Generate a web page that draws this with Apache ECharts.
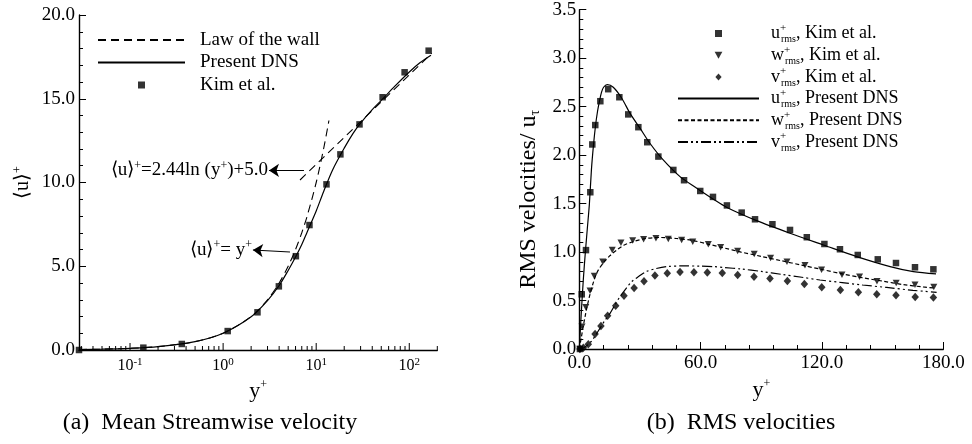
<!DOCTYPE html>
<html>
<head>
<meta charset="utf-8">
<script src="https://cdn.jsdelivr.net/npm/echarts@6.0.0/dist/echarts.min.js"></script>
<style>
html,body{margin:0;padding:0;background:#fff;}
#chart{width:972px;height:444px;}
</style>
</head>
<body>
<div id="chart"></div>
<script>
// ---------------- (a) Mean streamwise velocity ----------------
var kimA_y = [0.0283, 0.139, 0.36, 1.12, 2.34, 3.97, 6.05, 8.47, 12.9, 18.2, 29.2, 51.7, 89.1, 161.5];
var kimA_u = [0.0, 0.14, 0.36, 1.13, 2.25, 3.8, 5.6, 7.46, 9.89, 11.68, 13.47, 15.09, 16.58, 17.87];

var dnsA_y = [0.0283, 0.05, 0.1, 0.2, 0.5, 1, 2, 3, 4, 5, 6, 7, 8, 10, 12, 15, 20, 25, 30, 40, 50, 70, 100, 130, 171];
var dnsA_u = [0.03, 0.05, 0.1, 0.2, 0.5, 1.0, 1.98, 2.95, 3.85, 4.75, 5.55, 6.3, 7.05, 8.3, 9.45, 10.75, 12.05, 12.95, 13.55, 14.35, 14.9, 15.75, 16.6, 17.15, 17.6];

var viscous_y = [0.0283, 0.05, 0.1, 0.2, 0.5, 1, 2, 3, 4, 5, 6, 7, 8, 10, 12, 13.7];
var viscous_u = [0.0283, 0.05, 0.1, 0.2, 0.5, 1, 2, 3, 4, 5, 6, 7, 8, 10, 12, 13.7];

var loglaw_y = [6.7, 174];
var loglaw_u = [10.15, 17.71];

var logMajorTicks = [0.1, 1, 10, 100];
var yTicksA = [0, 5, 10, 15, 20];

// ---------------- (b) RMS velocities ----------------
var kimU_y = [0.3, 1.2, 3.3, 5.44, 6.43, 7.9, 10.4, 14.3, 19.8, 24.2, 29.2, 33.6, 39.1, 46.5, 51.8, 59.8, 66.1, 73.0, 80.3, 86.9, 95.5, 104.2, 112.5, 121.2, 128.9, 137.7, 147.6, 156.6, 166.0, 175.1];
var kimU_v = [0.0, 0.564, 1.02, 1.617, 2.11, 2.31, 2.556, 2.68, 2.597, 2.42, 2.288, 2.133, 1.985, 1.847, 1.741, 1.63, 1.569, 1.481, 1.407, 1.338, 1.287, 1.228, 1.153, 1.083, 1.029, 0.97, 0.925, 0.887, 0.843, 0.822];

var kimW_y = [0.35, 1.34, 3.2, 5.3, 7.4, 11.6, 16.3, 20.6, 26.4, 31.8, 37.9, 44.0, 50.6, 56.1, 63.8, 69.9, 78.3, 86.5, 94.6, 102.7, 111.6, 119.8, 129.9, 138.6, 147.2, 156.7, 166.0, 175.3];
var kimW_v = [0.0, 0.23, 0.43, 0.60, 0.753, 0.90, 1.022, 1.097, 1.118, 1.132, 1.142, 1.135, 1.125, 1.107, 1.08, 1.049, 1.011, 0.98, 0.938, 0.90, 0.863, 0.818, 0.765, 0.746, 0.70, 0.681, 0.662, 0.64];

var kimV_y = [0.3, 2.0, 4.45, 7.8, 10.7, 14.0, 18.0, 22.1, 27.1, 32.0, 37.4, 43.5, 49.8, 56.7, 63.3, 70.7, 78.3, 86.4, 94.3, 102.9, 111.3, 119.9, 129.1, 138.0, 147.1, 156.6, 166.1, 175.1];
var kimV_v = [0.0, 0.013, 0.05, 0.155, 0.237, 0.344, 0.447, 0.55, 0.63, 0.70, 0.757, 0.781, 0.795, 0.791, 0.788, 0.784, 0.764, 0.746, 0.726, 0.702, 0.671, 0.637, 0.609, 0.585, 0.564, 0.554, 0.537, 0.531];

var dnsU_y = [0, 1, 2, 3, 4, 5, 6, 7, 8, 9, 10, 11, 12, 13.85, 16.8, 21, 25.1, 30, 35, 41.5, 49.8, 58.1, 66.3, 73, 87.7, 104.2, 120.7, 137.2, 153.7, 165.2, 176.4];
var dnsU_v = [0, 0.38, 0.72, 1.0, 1.25, 1.5, 1.85, 2.1, 2.3, 2.45, 2.56, 2.65, 2.7, 2.727, 2.70, 2.587, 2.43, 2.278, 2.12, 1.95, 1.778, 1.658, 1.545, 1.46, 1.324, 1.194, 1.073, 0.953, 0.85, 0.798, 0.774];

var dnsW_y = [0, 1, 2, 3, 4, 5, 7, 9, 12, 15, 18.5, 22, 27, 33, 40, 48, 56, 64, 72, 80, 90, 100, 110, 120, 130, 140, 150, 160, 170, 176];
var dnsW_v = [0, 0.12, 0.24, 0.35, 0.45, 0.54, 0.69, 0.8, 0.89, 0.96, 1.02, 1.07, 1.11, 1.14, 1.15, 1.14, 1.12, 1.08, 1.04, 1.0, 0.955, 0.91, 0.865, 0.82, 0.775, 0.735, 0.7, 0.665, 0.64, 0.628];

var dnsV_y = [0, 2, 4, 6, 8, 10.2, 12.5, 15.2, 17.5, 20.1, 23, 25.9, 29.5, 33.3, 38, 43.2, 51.4, 60, 66.3, 72, 80, 90, 100, 110, 119, 130, 140, 152, 165, 176.7];
var dnsV_v = [0, 0.01, 0.04, 0.08, 0.14, 0.213, 0.29, 0.368, 0.45, 0.54, 0.62, 0.695, 0.75, 0.80, 0.83, 0.85, 0.857, 0.855, 0.85, 0.84, 0.825, 0.80, 0.77, 0.74, 0.712, 0.685, 0.66, 0.635, 0.605, 0.585];

var xTicksB = [0, 60, 120, 180];
var yTicksB = [0, 0.5, 1, 1.5, 2, 2.5, 3, 3.5];

// ---------------- helpers ----------------
function pairs(xs, ys) { return xs.map(function (x, i) { return [x, ys[i]]; }); }
var FONT = 'Liberation Serif';
var BLACK = '#000';

var SQUARE = 'path://M0,0h10v10h-10z';
var DIAMOND = 'path://M5,0L10,5.6L5,11.2L0,5.6Z';
var TRI_DOWN = 'path://M0,0L10,0L5,9Z';

// minor ticks on the log axis (decade subdivisions)
var logTickVals = [];
(function () {
  var lo = 0.0283, hi = 200;
  for (var e = -2; e <= 2; e++) {
    for (var m = 1; m <= 9; m++) {
      var v = m * Math.pow(10, e);
      if (v >= lo - 1e-9 && v <= hi + 1e-9) logTickVals.push([v, 0]);
    }
  }
})();

var richSup = {
  t: { fontSize: 19, fontFamily: FONT, color: BLACK, lineHeight: 22 },
  s: { fontSize: 12, fontFamily: FONT, color: BLACK, verticalAlign: 'top', lineHeight: 9 }
};

var legNames = {
  uK: ['u', 'Kim et al.'], wK: ['w', 'Kim et al.'], vK: ['v', 'Kim et al.'],
  uD: ['u', 'Present DNS'], wD: ['w', 'Present DNS'], vD: ['v', 'Present DNS']
};

var noSym = { opacity: 0, color: 'rgba(0,0,0,0)', borderWidth: 0 };

var chart = echarts.init(document.getElementById('chart'), null, { renderer: 'canvas' });

var axLine = { show: true, onZero: false, lineStyle: { color: BLACK, width: 1.4 } };
var supRich = {
  t: { fontSize: 22, fontFamily: FONT, color: BLACK, lineHeight: 24 },
  s: { fontSize: 12, fontFamily: FONT, color: BLACK, verticalAlign: 'top', lineHeight: 10 }
};

var option = {
  animation: false,
  textStyle: { fontFamily: FONT },
  grid: [
    { left: 79, top: 15, width: 358.3, height: 335, outerBoundsMode: 'none', containLabel: false },
    { left: 579.3, top: 9.7, width: 364, height: 339.3, outerBoundsMode: 'none', containLabel: false }
  ],
  xAxis: [
    {
      type: 'log', gridIndex: 0, min: 0.0283, max: 200, logBase: 10,
      axisLine: axLine, splitLine: { show: false },
      axisTick: { show: false }, minorTick: { show: false },
      axisLabel: {
        margin: 7,
        formatter: function (v) {
          var e = Math.log10(v), r = Math.round(e);
          if (Math.abs(e - r) > 1e-6) return '';
          return '{b|10}{s|' + (r < 0 ? '-' : '') + Math.abs(r) + '}';
        },
        rich: {
          b: { fontSize: 16, fontFamily: FONT, color: BLACK, lineHeight: 18 },
          s: { fontSize: 11, fontFamily: FONT, color: BLACK, verticalAlign: 'top', lineHeight: 8 }
        }
      },
      name: '{t|y}{s|+}', nameLocation: 'middle', nameGap: 15,
      nameTextStyle: { rich: supRich }
    },
    {
      type: 'value', gridIndex: 1, min: 0, max: 180, interval: 60,
      axisLine: axLine, splitLine: { show: false },
      axisTick: { show: true, inside: true, length: 7, lineStyle: { color: BLACK, width: 1 } },
      minorTick: { show: true, splitNumber: 5, length: 4, lineStyle: { color: BLACK, width: 1 } },
      axisLabel: { color: BLACK, fontFamily: FONT, fontSize: 19, margin: 5, formatter: function (v) { return v.toFixed(1); } },
      name: '{t|y}{s|+}', nameLocation: 'middle', nameGap: 22,
      nameTextStyle: { rich: supRich }
    }
  ],
  yAxis: [
    {
      type: 'value', gridIndex: 0, min: 0, max: 20, interval: 5,
      axisLine: axLine, splitLine: { show: false },
      axisTick: { show: true, inside: true, length: 7, lineStyle: { color: BLACK, width: 1 } },
      minorTick: { show: true, splitNumber: 5, length: 4, lineStyle: { color: BLACK, width: 1 } },
      axisLabel: { color: BLACK, fontFamily: FONT, fontSize: 19, margin: 4, formatter: function (v) { return v.toFixed(1); } },
      name: '{t|\u27E8u\u27E9}{s|+}', nameLocation: 'middle', nameGap: 45,
      nameTextStyle: { rich: { t: { fontSize: 20, fontFamily: FONT, color: BLACK, lineHeight: 22 }, s: { fontSize: 12, fontFamily: FONT, color: BLACK, verticalAlign: 'top', lineHeight: 9 } } }
    },
    {
      type: 'value', gridIndex: 1, min: 0, max: 3.5, interval: 0.5,
      axisLine: axLine, splitLine: { show: false },
      axisTick: { show: true, inside: true, length: 7, lineStyle: { color: BLACK, width: 1 } },
      minorTick: { show: true, splitNumber: 5, length: 4, lineStyle: { color: BLACK, width: 1 } },
      axisLabel: { color: BLACK, fontFamily: FONT, fontSize: 19, margin: 3, formatter: function (v) { return v.toFixed(1); } },
      name: '{t|RMS velocities/ u}{b|\u03C4}', nameLocation: 'middle', nameGap: 37,
      nameTextStyle: {
        padding: [0, 40, 0, 0],
        rich: { t: { fontSize: 24, fontFamily: FONT, color: BLACK, lineHeight: 27 }, b: { fontSize: 14, fontFamily: FONT, color: BLACK, verticalAlign: 'bottom', lineHeight: 10 } }
      }
    }
  ],
  legend: [
    {
      orient: 'vertical', left: 97, top: 29, padding: 0, selectedMode: false,
      itemWidth: 87, itemHeight: 7, itemGap: 0.5, symbolKeepAspect: true,
      data: [
        { name: 'Law of the wall', itemStyle: noSym },
        { name: 'Present DNS', itemStyle: noSym },
        { name: 'Kim et al.', icon: SQUARE }
      ],
      textStyle: { fontSize: 19, lineHeight: 22, color: BLACK, fontFamily: FONT, padding: [0, 0, 0, 10] }
    },
    {
      orient: 'vertical', left: 677, top: 22.5, padding: 0, selectedMode: false,
      itemWidth: 81, itemHeight: 7, itemGap: -0.3, symbolKeepAspect: true,
      data: [
        { name: 'uK', icon: SQUARE }, { name: 'wK', icon: TRI_DOWN }, { name: 'vK', icon: DIAMOND },
        { name: 'uD', itemStyle: noSym }, { name: 'wD', itemStyle: noSym }, { name: 'vD', itemStyle: noSym }
      ],
      formatter: function (n) {
        var p = legNames[n];
        return '{b|' + p[0] + '}{p|+}{r|rms}{b|, ' + p[1] + '}';
      },
      textStyle: {
        color: BLACK, fontFamily: FONT, padding: [0, 0, 0, 7],
        rich: {
          b: { fontSize: 18, fontFamily: FONT, color: BLACK, lineHeight: 22 },
          p: { fontSize: 11, fontFamily: FONT, color: BLACK, verticalAlign: 'top', lineHeight: 8, width: 1 },
          r: { fontSize: 10, fontFamily: FONT, color: BLACK, verticalAlign: 'bottom', lineHeight: 8 }
        }
      }
    }
  ],
  graphic: [
    { type: 'text', x: 210, y: 423, style: { text: '(a)  Mean Streamwise velocity', font: '24px Liberation Serif', fill: BLACK, align: 'center', verticalAlign: 'middle' } },
    { type: 'text', x: 741, y: 423, style: { text: '(b)  RMS velocities', font: '24px Liberation Serif', fill: BLACK, align: 'center', verticalAlign: 'middle' } }
  ],
  series: [
    {
      name: 'Law of the wall', type: 'line', xAxisIndex: 0, yAxisIndex: 0,
      data: pairs(viscous_y, viscous_u), symbol: 'none', smooth: 0.3,
      lineStyle: { color: BLACK, width: 1.1, type: [8, 5] }, itemStyle: { color: BLACK },
      markLine: {
        silent: true, animation: false,
        symbol: ['none', 'arrow'], symbolSize: 10,
        lineStyle: { color: BLACK, width: 1, type: 'solid' },
        label: { show: true, position: 'end', distance: 1, color: BLACK, rich: richSup },
        data: [
          [
            { coord: [7.39, 10.72], label: { formatter: '{t|\u27E8u\u27E9}{s|+}{t|=2.44ln (y}{s|+}{t|)+5.0}' } },
            { coord: [3.11, 10.72], label: { formatter: '{t|\u27E8u\u27E9}{s|+}{t|=2.44ln (y}{s|+}{t|)+5.0}' } }
          ],
          [
            { coord: [5.23, 5.85], label: { formatter: '{t|\u27E8u\u27E9}{s|+}{t|= y}{s|+}' } },
            { coord: [2.09, 5.97], label: { formatter: '{t|\u27E8u\u27E9}{s|+}{t|= y}{s|+}' } }
          ]
        ]
      }
    },
    {
      name: 'Law of the wall', type: 'line', xAxisIndex: 0, yAxisIndex: 0,
      data: pairs(loglaw_y, loglaw_u), symbol: 'none',
      lineStyle: { color: BLACK, width: 1.1, type: [8, 5] }, itemStyle: { color: BLACK }
    },
    {
      name: 'Present DNS', type: 'line', xAxisIndex: 0, yAxisIndex: 0,
      data: pairs(dnsA_y, dnsA_u), symbol: 'none', smooth: 0.3,
      lineStyle: { color: BLACK, width: 1.2, type: 'solid' }, itemStyle: { color: BLACK }
    },
    {
      name: 'Kim et al.', type: 'scatter', xAxisIndex: 0, yAxisIndex: 0,
      data: pairs(kimA_y, kimA_u), symbol: 'rect', symbolSize: 6.5, clip: false,
      itemStyle: { color: BLACK }
    },
    {
      type: 'custom', xAxisIndex: 0, yAxisIndex: 0, silent: true, clip: false,
      data: logTickVals,
      renderItem: function (params, api) {
        var v = api.value(0);
        var p = api.coord([v, 0]);
        var e = Math.log10(v);
        var major = Math.abs(e - Math.round(e)) < 1e-6;
        var len = major ? 7 : 4;
        return { type: 'line', shape: { x1: p[0], y1: p[1], x2: p[0], y2: p[1] - len }, style: { stroke: BLACK, lineWidth: 1 } };
      }
    },
    // (b)
    {
      name: 'uK', type: 'scatter', xAxisIndex: 1, yAxisIndex: 1,
      data: pairs(kimU_y, kimU_v), symbol: 'rect', symbolSize: 6.5, clip: false, itemStyle: { color: BLACK }
    },
    {
      name: 'wK', type: 'scatter', xAxisIndex: 1, yAxisIndex: 1,
      data: pairs(kimW_y, kimW_v), symbol: TRI_DOWN, symbolSize: [7, 6.5], clip: false, itemStyle: { color: BLACK }
    },
    {
      name: 'vK', type: 'scatter', xAxisIndex: 1, yAxisIndex: 1,
      data: pairs(kimV_y, kimV_v), symbol: 'diamond', symbolSize: [7.5, 8.5], clip: false, itemStyle: { color: BLACK }
    },
    {
      name: 'uD', type: 'line', xAxisIndex: 1, yAxisIndex: 1,
      data: pairs(dnsU_y, dnsU_v), symbol: 'none', smooth: 0.3,
      lineStyle: { color: BLACK, width: 1.2, type: 'solid' }, itemStyle: { color: BLACK }
    },
    {
      name: 'wD', type: 'line', xAxisIndex: 1, yAxisIndex: 1,
      data: pairs(dnsW_y, dnsW_v), symbol: 'none', smooth: 0.3,
      lineStyle: { color: BLACK, width: 1.2, type: [4, 2.5] }, itemStyle: { color: BLACK }
    },
    {
      name: 'vD', type: 'line', xAxisIndex: 1, yAxisIndex: 1,
      data: pairs(dnsV_y, dnsV_v), symbol: 'none', smooth: 0.3,
      lineStyle: { color: BLACK, width: 1.2, type: [10, 3, 2, 3, 2, 3] }, itemStyle: { color: BLACK }
    }
  ]
};

chart.setOption(option);
</script>
</body>
</html>
